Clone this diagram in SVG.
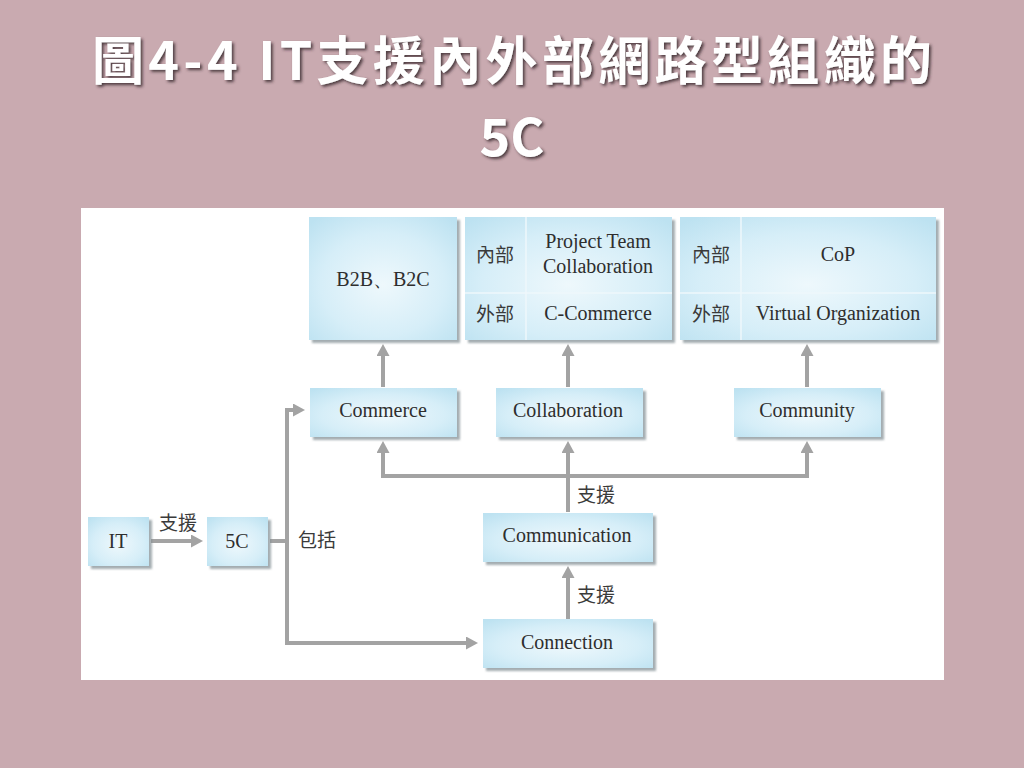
<svg xmlns="http://www.w3.org/2000/svg" width="1024" height="768" viewBox="0 0 1024 768">
  <defs>
    <radialGradient id="boxFill" cx="50%" cy="55%" r="70%">
      <stop offset="0" stop-color="#eef8fc"/>
      <stop offset="0.6" stop-color="#d6eef8"/>
      <stop offset="1" stop-color="#bde2f1"/>
    </radialGradient>
    <filter id="shadow" x="-10%" y="-10%" width="130%" height="130%">
      <feDropShadow dx="3" dy="3" stdDeviation="1.2" flood-color="#7d8a90" flood-opacity="0.7"/>
    </filter>
    <filter id="titleShadow" x="-5%" y="-20%" width="110%" height="150%">
      <feDropShadow dx="2" dy="2" stdDeviation="1.5" flood-color="#3a2a2e" flood-opacity="0.85"/>
    </filter>
    <marker id="arrow" markerUnits="userSpaceOnUse" markerWidth="14" markerHeight="14" refX="4" refY="6.5" orient="auto">
      <path d="M0,0 L12,6.5 L0,13 z" fill="#a3a3a3"/>
    </marker>
  </defs>
  <style>
    .box { fill: url(#boxFill); filter: url(#shadow); }
    .div { stroke: #eef7fb; stroke-width: 1.5; fill: none; }
    .en { font-family: "Liberation Serif", "Times New Roman", serif; font-size: 20px; fill: #2e2e2e; text-anchor: middle; }
    .zh { font-family: "Noto Sans CJK TC", "Noto Sans CJK SC", sans-serif; font-size: 19px; fill: #3a3a3a; text-anchor: middle; }
    .title { font-family: "Noto Sans CJK TC", "Noto Sans CJK SC", sans-serif; font-weight: 700; font-size: 52px; fill: #ffffff; text-anchor: middle; filter: url(#titleShadow); }
    .conn { stroke: #a3a3a3; stroke-width: 4; fill: none; }
    .arr { marker-end: url(#arrow); }
  </style>

  <rect x="0" y="0" width="1024" height="768" fill="#c9aab0"/>

  <g id="title">
    <text class="title" x="512" y="80" textLength="840" lengthAdjust="spacing">圖4-4 IT支援內外部網路型組織的</text>
    <text class="title" x="512" y="156">5C</text>
  </g>

  <rect x="81" y="208" width="863" height="472" fill="#ffffff"/>

  <g id="connectors">
    <path class="conn arr" d="M151,541 L195,541"/>
    <path class="conn" d="M270,541 L287,541"/>
    <path class="conn" d="M287,410 L287,643"/>
    <path class="conn arr" d="M285,410 L297,410"/>
    <path class="conn arr" d="M285,643 L470,643"/>
    <path class="conn arr" d="M383,387 L383,352"/>
    <path class="conn arr" d="M568,387 L568,352"/>
    <path class="conn arr" d="M807,387 L807,352"/>
    <path class="conn" d="M383,476 L807,476"/>
    <path class="conn arr" d="M383,478 L383,449"/>
    <path class="conn arr" d="M568,512 L568,449"/>
    <path class="conn arr" d="M807,478 L807,449"/>
    <path class="conn arr" d="M568,619 L568,574"/>
  </g>

  <g id="label-it-5c"><text class="zh" x="178" y="530">支援</text></g>
  <g id="label-include"><text class="zh" x="317" y="547">包括</text></g>
  <g id="label-comm"><text class="zh" x="596" y="502">支援</text></g>
  <g id="label-conn"><text class="zh" x="596" y="602">支援</text></g>

  <g id="node-it">
    <rect class="box" x="88" y="517" width="61" height="49"/>
    <text class="en" x="118" y="548">IT</text>
  </g>
  <g id="node-5c">
    <rect class="box" x="207" y="517" width="61" height="49"/>
    <text class="en" x="237" y="548">5C</text>
  </g>
  <g id="node-commerce">
    <rect class="box" x="310" y="388" width="147" height="49"/>
    <text class="en" x="383" y="417">Commerce</text>
  </g>
  <g id="node-collaboration">
    <rect class="box" x="496" y="388" width="147" height="49"/>
    <text class="en" x="568" y="417">Collaboration</text>
  </g>
  <g id="node-community">
    <rect class="box" x="734" y="388" width="147" height="49"/>
    <text class="en" x="807" y="417">Community</text>
  </g>
  <g id="node-communication">
    <rect class="box" x="483" y="513" width="170" height="49"/>
    <text class="en" x="567" y="542">Communication</text>
  </g>
  <g id="node-connection">
    <rect class="box" x="483" y="619" width="170" height="49"/>
    <text class="en" x="567" y="649">Connection</text>
  </g>
  <g id="node-b2b">
    <rect class="box" x="309" y="217" width="148" height="123"/>
    <text class="en" x="383" y="286">B2B、B2C</text>
  </g>
  <g id="node-collab-table">
    <rect class="box" x="465" y="217" width="207" height="123"/>
    <path class="div" d="M526,217 L526,340 M465,293 L672,293"/>
    <text class="zh" x="495" y="262">內部</text>
    <text class="zh" x="495" y="321">外部</text>
    <text class="en" x="598" y="248">Project Team</text>
    <text class="en" x="598" y="273">Collaboration</text>
    <text class="en" x="598" y="320">C-Commerce</text>
  </g>
  <g id="node-community-table">
    <rect class="box" x="680" y="217" width="256" height="123"/>
    <path class="div" d="M741,217 L741,340 M680,293 L936,293"/>
    <text class="zh" x="711" y="262">內部</text>
    <text class="zh" x="711" y="321">外部</text>
    <text class="en" x="838" y="261">CoP</text>
    <text class="en" x="838" y="320">Virtual Organization</text>
  </g>
</svg>
